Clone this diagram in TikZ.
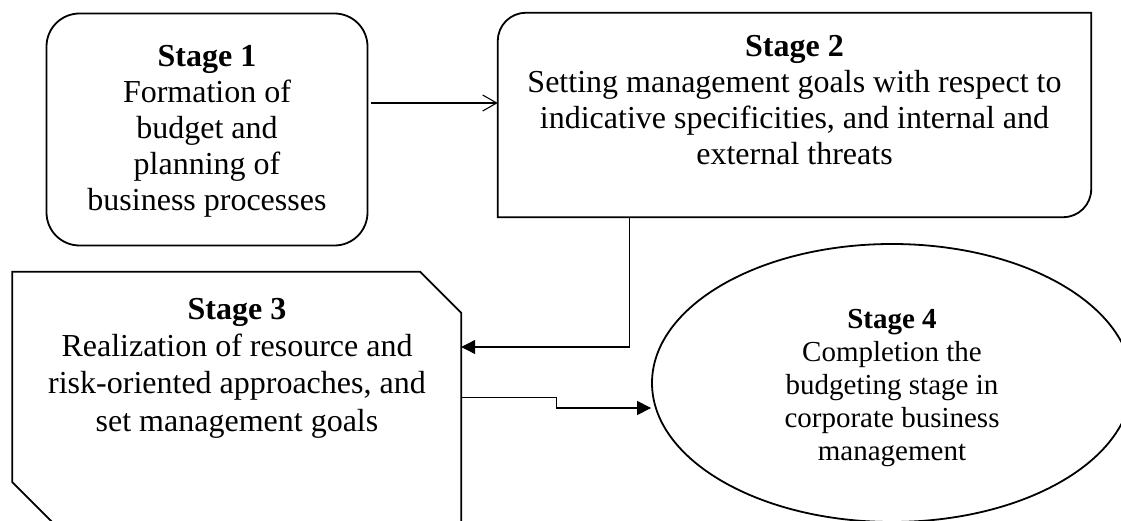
\documentclass[tikz,border=0pt]{standalone}
\usepackage{fontspec}
\setmainfont{Liberation Serif}
\usetikzlibrary{arrows.meta,calc,shapes.geometric}

\begin{document}
\begin{tikzpicture}[x=1pt,y=1pt,
  boxline/.style={line width=1.8pt},
  link/.style={line width=1.1pt},
  bodytext/.style={align=center,inner sep=0pt,font=\fontsize{32}{36}\selectfont},
  widetext/.style={align=center,inner sep=0pt,font=\fontsize{32}{37.3}\selectfont},
  smalltext/.style={align=center,inner sep=0pt,font=\fontsize{29}{33}\selectfont},
  filledtip/.style={-{Triangle[length=14pt,width=14pt]}},
  opentip/.style={-{Straight Barb[length=14pt,width=16pt,line width=1.1pt]}}
]
\useasboundingbox (0,0) rectangle (1121,-521);
\clip (0,0) rectangle (1121,-521);

% Stage 1: rounded box
\node[draw,boxline,rounded corners=33pt,minimum width=321pt,minimum height=232pt,
      inner sep=0pt] (s1) at (207,-129.5) {};
\node[bodytext] (s1t) at (207,-131) {\textbf{Stage 1}\\Formation of\\budget and\\planning of\\business processes};

% Stage 2: box with top-left and bottom-right corners rounded
\node[minimum width=593pt,minimum height=204pt,inner sep=0pt] (s2) at (794.5,-115) {};
\draw[boxline] (s2.south west) -- ($(s2.north west)+(0,-28)$)
  arc[start angle=180,end angle=90,radius=28pt] -- (s2.north east)
  -- ($(s2.south east)+(0,28)$)
  arc[start angle=0,end angle=-90,radius=28pt] -- cycle;
\node[bodytext] (s2t) at (794.5,-100) {\textbf{Stage 2}\\Setting management goals with respect to\\indicative specificities, and internal and\\external threats};

% Stage 3: box with chamfered top-right and bottom-left corners
\node[minimum width=448.5pt,minimum height=251pt,inner sep=0pt] (s3) at (236.75,-397.5) {};
\draw[boxline] (s3.north west) -- ($(s3.north east)+(-41,0)$) -- ($(s3.north east)+(0,-41)$)
  -- (s3.south east) -- ($(s3.south west)+(41,0)$) -- ($(s3.south west)+(0,41)$) -- cycle;
\node[widetext] (s3t) at (237,-368) {\textbf{Stage 3}\\Realization of resource and\\risk-oriented approaches, and\\set management goals};

% Stage 4: ellipse
\node[draw,boxline,ellipse,minimum width=480pt,minimum height=278pt,inner sep=0pt] (s4) at (892,-383) {};
\node[smalltext] (s4t) at (892,-388) {\textbf{Stage 4}\\Completion the\\budgeting stage in\\corporate business\\management};

% Connectors
\coordinate (a12) at ($(s1.east)+(3,26.5)$);
\draw[link,opentip] (a12) -- (s2.west |- a12);
\draw[link,filledtip] ($(s2.south west)+(132,0)$) |- ($(s3.east)+(0,50.5)$);
\draw[link,filledtip] (s3.east) -- ++(95,0) |- ($(s4.west)+(0,-25)$);
\end{tikzpicture}
\end{document}
